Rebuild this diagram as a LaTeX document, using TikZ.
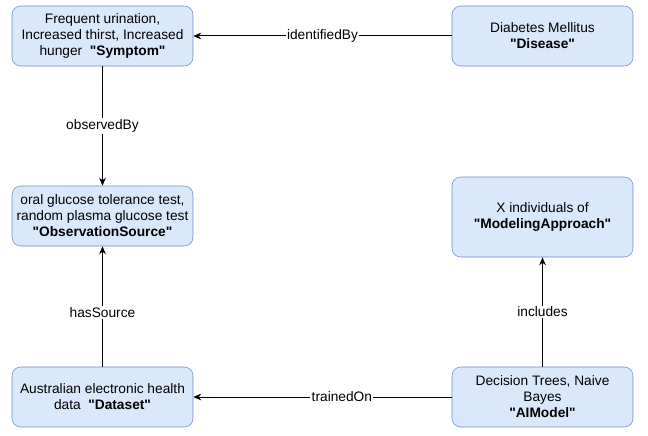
\documentclass[tikz,border=0pt]{standalone}
\usepackage{fontspec}
\setmainfont{Liberation Sans}
\usepackage{tikz}
\usetikzlibrary{arrows.meta}

\definecolor{boxfill}{HTML}{DAE8FC}
\definecolor{boxline}{HTML}{6C8EBF}
\newcommand{\cls}[1]{\textbf{\textquotedbl#1\textquotedbl}}

\begin{document}
\begin{tikzpicture}[x=0.75pt,y=-0.75pt,
  concept/.style={draw=boxline,fill=boxfill,rounded corners=6.5pt,
    minimum width=135.75pt,minimum height=45pt,inner sep=1pt,align=center,
    font=\fontsize{10.3}{12}\selectfont},
  rel/.style={fill=white,inner sep=1pt,font=\fontsize{10.3}{12}\selectfont},
  link/.style={-{Stealth[length=6pt,width=5pt]},line width=0.75pt}]
  \useasboundingbox (0,0) rectangle (648,435);
  % concepts
  \node[concept] (symptom) at (102.5,36)
    {Frequent urination,\\Increased thirst, Increased\\hunger\ \ \cls{Symptom}};
  \node[concept] (disease) at (542.5,36)
    {Diabetes Mellitus\\\cls{Disease}};
  \node[concept] (obs) at (102.5,216)
    {oral glucose tolerance test,\\random plasma glucose test\\\cls{ObservationSource}};
  \node[concept,minimum height=60pt] (approach) at (542.5,217)
    {X individuals of\\\cls{ModelingApproach}};
  \node[concept] (dataset) at (102.5,397)
    {Australian electronic health\\data\ \ \cls{Dataset}};
  \node[concept] (model) at (542.5,397)
    {Decision Trees, Naive\\Bayes\\\cls{AIModel}};
  % relations
  \draw[link] (disease) -- node[rel] {identifiedBy} (symptom);
  \draw[link] (symptom) -- node[rel] {observedBy} (obs);
  \draw[link] (dataset) -- node[rel,pos=0.45] {hasSource} (obs);
  \draw[link] (model) -- node[rel,pos=0.425] {trainedOn} (dataset);
  \draw[link] (model) -- node[rel] {includes} (approach);
\end{tikzpicture}
\end{document}
